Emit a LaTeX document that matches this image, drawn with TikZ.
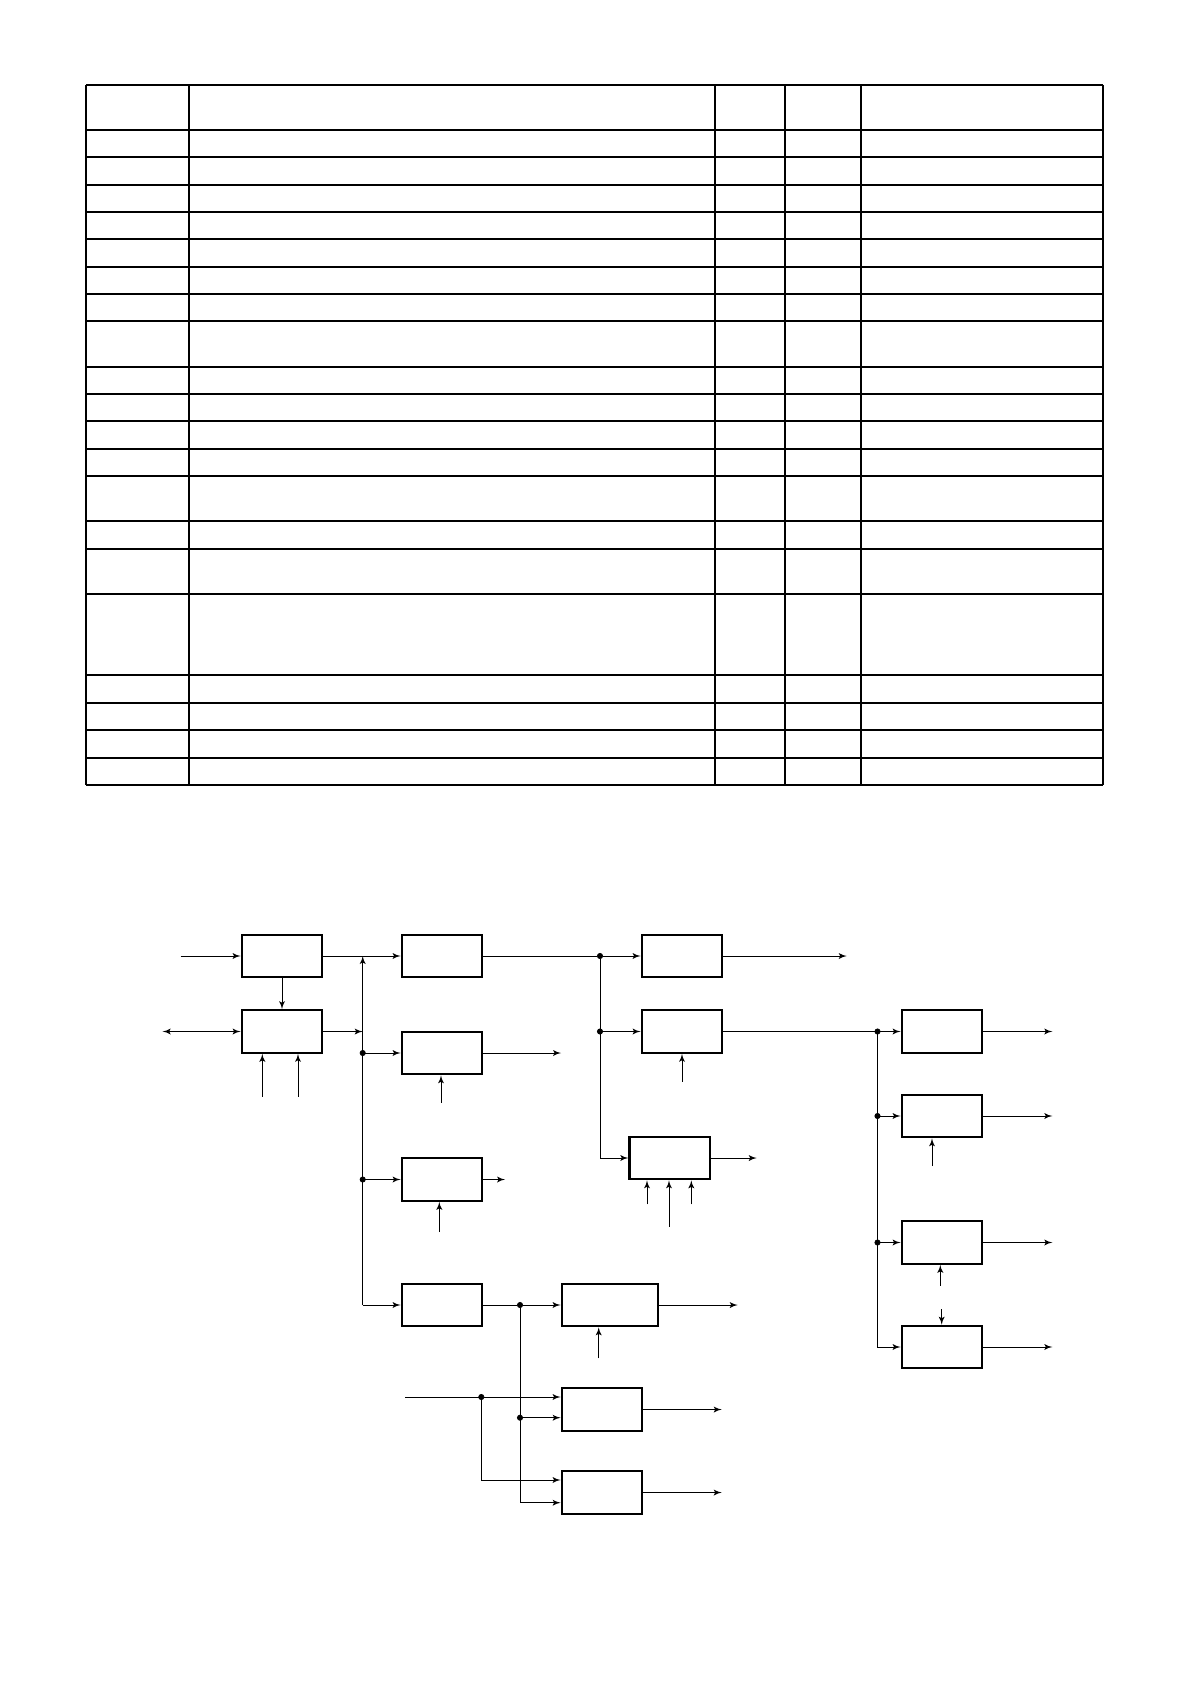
\documentclass[tikz,border=0pt]{standalone}
\usepackage{tikz}
\usetikzlibrary{shapes,arrows}
\usetikzlibrary{positioning}
\tikzset{auto,>=latex', minimum size=0pt, line width=0.45pt}
\tikzstyle{block} = [draw, fill=white, rectangle, line width=1.1pt, minimum height=21.25pt, minimum width=40.3pt, inner sep=0pt]
\tikzstyle{junction} = [draw, circle, fill, minimum size=2.6pt, inner sep=0pt, outer sep=0pt, anchor=center]
\tikzstyle{input} = [coordinate]
\tikzstyle{rule} = [line width=1pt]
\begin{document}
\begin{tikzpicture}[x=0.5pt,y=-0.5pt]
		\useasboundingbox (0,0) rectangle (1190,1684);
		\foreach \y in {85,130,157.1,184.8,211.9,239,266.7,293.8,320.9,367,394,421.3,448.9,476,521,548.7,594,675,703,730.2,757.5,784.7}
			\draw [rule] (86,\y) -- (1103,\y);
		\foreach \x in {86,188.7,714.7,785,861,1103}
			\draw [rule] (\x,85) -- (\x,784.7);

		\node [block] (a1) at (282,956) {};
		\node [block] (a2) at (282,1031.5) {};
		\node [block] (b1) at (442,956) {};
		\node [block] (b2) at (442,1053) {};
		\node [block] (b3) at (442,1179.5) {};
		\node [block] (b4) at (442,1305) {};
		\node [block] (c1) at (682,956) {};
		\node [block] (c2) at (682,1031.5) {};
		\node [block] (c3) at (669.7,1158) {};
		\node [block, minimum width=48.2pt] (d1) at (609.9,1305) {};
		\node [block] (d2) at (602,1409.5) {};
		\node [block] (d3) at (602,1492.5) {};
		\node [block] (e1) at (942,1031.5) {};
		\node [block] (e2) at (942,1116) {};
		\node [block] (e3) at (942,1242.5) {};
		\node [block] (e4) at (942,1347) {};

		\node [input] (a1in) at (180.7,956) {};
		\node [input] (a2in) at (162.7,1031.5) {};
		\node [input] (a2s1) at (262.3,1096.5) {};
		\node [input] (a2s2) at (298,1096.5) {};
		\node [input] (bustop) at (362.7,956) {};
		\node [input] (busend) at (362.7,1305) {};
		\node [junction] (jb2) at (362.7,1053) {};
		\node [junction] (jb3) at (362.7,1179.5) {};
		\node [input] (b2out) at (561,1053) {};
		\node [input] (b2s) at (441,1102.7) {};
		\node [input] (b3out) at (505,1179.5) {};
		\node [input] (b3s) at (439.3,1232) {};
		\node [junction] (jc1) at (600,956) {};
		\node [junction] (jc2) at (600,1031.5) {};
		\node [input] (c1out) at (846.7,956) {};
		\node [input] (c2s) at (682,1081.7) {};
		\node [input] (c3out) at (756.7,1158) {};
		\node [input] (c3s1) at (647,1204.3) {};
		\node [input] (c3s2) at (669,1226.5) {};
		\node [input] (c3s3) at (691.3,1204.3) {};
		\node [junction] (je1) at (877.5,1031.5) {};
		\node [junction] (je2) at (877.5,1116) {};
		\node [junction] (je3) at (877.5,1242.5) {};
		\node [input] (e2s) at (932,1166) {};
		\node [input] (e3s) at (940.3,1285.7) {};
		\node [input] (e4n) at (941.7,1309.3) {};
		\node [junction] (jd1) at (520,1305) {};
		\node [junction] (jd2) at (520,1417.7) {};
		\node [input] (d3lo) at (520,1502.7) {};
		\node [input] (ext) at (405,1397) {};
		\node [junction] (jx) at (481.3,1397) {};
		\node [input] (d3hi) at (481.3,1480) {};
		\node [input] (d1s) at (598.7,1358.3) {};

		\draw [->] (a1in) -- (a1);
		\draw [<->] (a2in) -- (a2);
		\draw [->] (a1) -- (a2);
		\draw [->] (a2s1) -- (a2s1 |- a2.south);
		\draw [->] (a2s2) -- (a2s2 |- a2.south);
		\draw [->] (a1) -- (b1);
		\draw [->] (a2) -- (a2 -| bustop);
		\draw [->] (busend) -- (bustop);
		\draw [->] (busend) -- (b4);
		\draw [->] (jb2) -- (b2);
		\draw [->] (jb3) -- (b3);
		\draw [->] (b2) -- (b2out);
		\draw [->] (b2s) -- (b2s |- b2.south);
		\draw [->] (b3) -- (b3out);
		\draw [->] (b3s) -- (b3s |- b3.south);
		\draw (b1) -- (jc1);
		\draw [->] (jc1) -- (c1);
		\draw [->] (jc2) -- (c2);
		\draw [->] (jc1) |- (c3);
		\draw [->] (c1) -- (c1out);
		\draw [->] (c2s) -- (c2s |- c2.south);
		\draw [->] (c3) -- (c3out);
		\draw [->] (c3s1) -- (c3s1 |- c3.south);
		\draw [->] (c3s2) -- (c3s2 |- c3.south);
		\draw [->] (c3s3) -- (c3s3 |- c3.south);
		\draw (c2) -- (je1);
		\draw [->] (je1) -- (e1);
		\draw [->] (je2) -- (e2);
		\draw [->] (je3) -- (e3);
		\draw [->] (je1) |- (e4);
		\foreach \n in {e1,e2,e3,e4}
			\draw [->] (\n) -- (\n.center -| 1052.3,0);
		\draw [->] (e2s) -- (e2s |- e2.south);
		\draw [->] (e3s) -- (e3s |- e3.south);
		\draw [->] (e4n) -- (e4n |- e4.north);
		\draw (b4) -- (jd1);
		\draw [->] (jd1) -- (d1);
		\draw [->] (d1) -- (d1.center -| 737.7,0);
		\draw [->] (d1s) -- (d1s |- d1.south);
		\draw (jd1) -- (jd2);
		\draw [->] (jd2) -- (jd2 -| d2.west);
		\draw [->] (jd2) -- (d3lo) -- (d3lo -| d3.west);
		\draw (ext) -- (jx);
		\draw [->] (jx) -- (jx -| d2.west);
		\draw [->] (jx) -- (d3hi) -- (d3hi -| d3.west);
		\draw [->] (d2) -- (d2.center -| 721.7,0);
		\draw [->] (d3) -- (d3.center -| 721.7,0);
	\end{tikzpicture}
\end{document}
